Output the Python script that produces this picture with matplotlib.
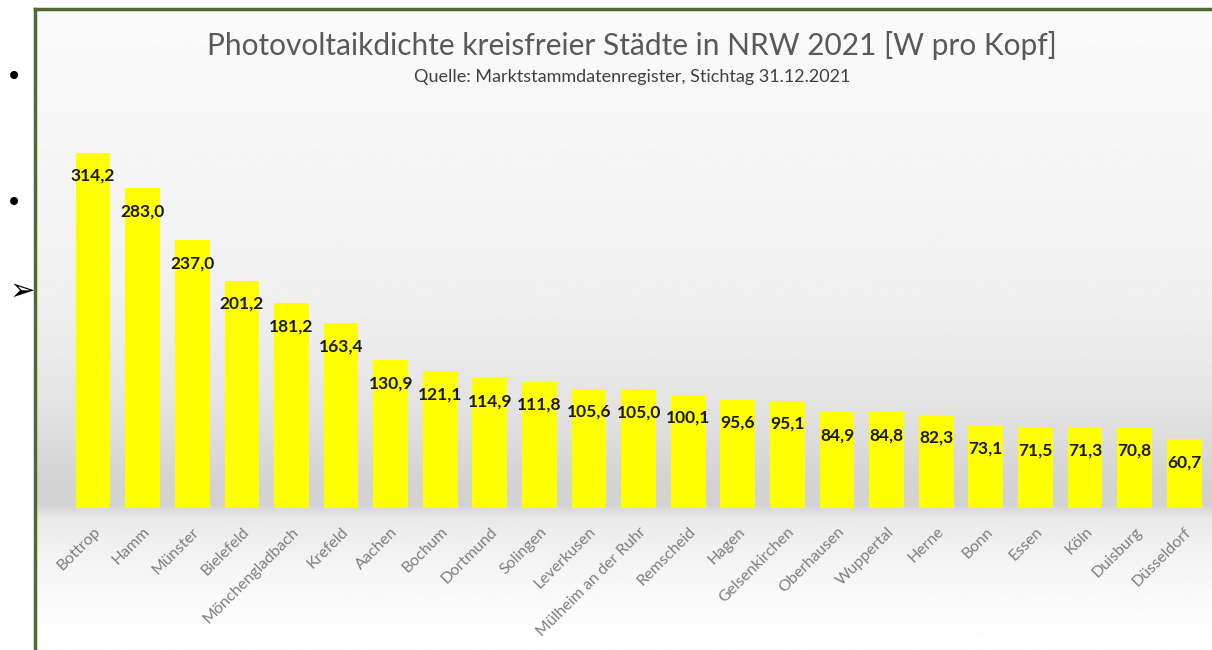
import matplotlib.pyplot as plt
import numpy as np
from matplotlib.lines import Line2D

# data
cities = ["Bottrop", "Hamm", "Münster", "Bielefeld", "Mönchengladbach", "Krefeld",
          "Aachen", "Bochum", "Dortmund", "Solingen", "Leverkusen",
          "Mülheim an der Ruhr", "Remscheid", "Hagen", "Gelsenkirchen",
          "Oberhausen", "Wuppertal", "Herne", "Bonn", "Essen", "Köln",
          "Duisburg", "Düsseldorf"]
watt_per_head = [314.2, 283.0, 237.0, 201.2, 181.2, 163.4, 130.9, 121.1, 114.9,
                 111.8, 105.6, 105.0, 100.1, 95.6, 95.1, 84.9, 84.8, 82.3, 73.1,
                 71.5, 71.3, 70.8, 60.7]

title = "Photovoltaikdichte kreisfreier Städte in NRW 2021 [W pro Kopf]"
subtitle = "Quelle: Marktstammdatenregister, Stichtag 31.12.2021"

plt.rcParams["font.family"] = ["Lato", "DejaVu Sans"]

W, H = 1212, 650
fig = plt.figure(figsize=(W / 100, H / 100), dpi=100)
fig.patch.set_facecolor("white")

# -------- background gradient inside the frame --------
bg = fig.add_axes([0, 0, 1, 1], zorder=-2)
bg.set_xlim(0, W)
bg.set_ylim(H, 0)
bg.axis("off")
ys = np.array([9, 150, 300, 400, 450, 490, 505, 520, 560, 610, 650])
cs = np.array([250, 246, 240, 228, 218, 210, 212, 234, 244, 251, 254])
yy = np.arange(9, 651)
col = np.interp(yy, ys, cs) / 255.0
grad = np.repeat(col[:, None], 2, axis=1)
bg.imshow(grad, cmap="gray", vmin=0, vmax=1, aspect="auto",
          extent=(35, W, 650, 9), interpolation="bilinear")

# frame
frame_col = "#4f6a2c"
fig.add_artist(Line2D([35 / W, 35 / W], [0, 1 - 9 / H], color=frame_col, lw=2.5))
fig.add_artist(Line2D([35 / W, 1], [1 - 9 / H, 1 - 9 / H], color=frame_col, lw=2.5))

# bullets outside the frame
fig.text(14 / W, 1 - 77 / H, "•", fontsize=20, ha="center", va="center",
         family=["DejaVu Sans"])
fig.text(14 / W, 1 - 203 / H, "•", fontsize=20, ha="center", va="center",
         family=["DejaVu Sans"])
fig.text(22 / W, 1 - 291 / H, "➢", fontsize=22, ha="center", va="center",
         family=["DejaVu Sans"])

# -------- bars --------
left, right, base, top = 41, 1212, 508, 110
ax = fig.add_axes([left / W, 1 - base / H, (right - left) / W, (base - top) / H])
ax.patch.set_alpha(0)
x = np.arange(len(cities))
ax.bar(x, watt_per_head, width=0.70, color="#ffff00", zorder=3)
ax.set_xlim(-1.05, 22.56)
ax.set_ylim(0, (base - top) / 1.13)
for s in ax.spines.values():
    s.set_visible(False)
ax.set_yticks([])
ax.set_xticks(x)
ax.set_xticklabels(cities, rotation=45, ha="right", rotation_mode="anchor",
                   color="#7f7f7f", fontsize=11.5)
ax.tick_params(axis="x", length=0, pad=12)

for xi, v in zip(x, watt_per_head):
    ax.annotate(f"{v:.1f}".replace(".", ","), (xi, v), xytext=(0, -23),
                textcoords="offset pixels", ha="center", va="center",
                fontsize=12.5, fontweight="bold", color="#1a1a1a", zorder=4)

fig.text(632 / W, 1 - 45 / H, title, ha="center", va="center",
         fontsize=21.5, color="#595959")
fig.text(632 / W, 1 - 77 / H, subtitle, ha="center", va="center",
         fontsize=13, color="#404040")

fig.savefig("out.png", dpi=100)
